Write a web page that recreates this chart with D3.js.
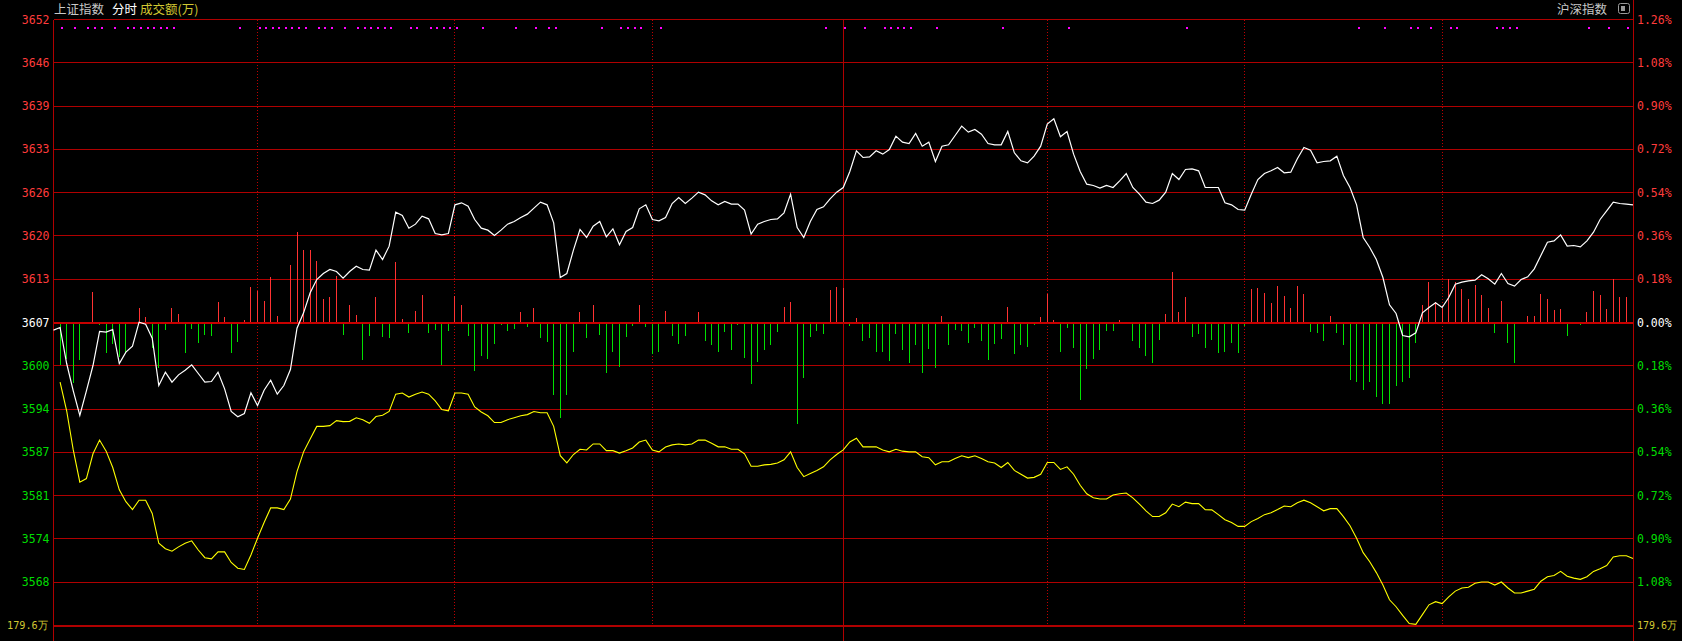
<!DOCTYPE html>
<html>
<head>
<meta charset="utf-8">
<script src="https://cdn.jsdelivr.net/npm/d3@7/dist/d3.min.js"></script>
<style>
html,body{margin:0;padding:0;background:#000;overflow:hidden;}
svg{display:block;}
</style>
</head>
<body>
<svg id="chart" width="1682" height="641"></svg>
<script>
// ---------------- DATA ----------------
const prevClose = 3606.85;
const pctTicks = [1.26,1.08,0.90,0.72,0.54,0.36,0.18,0,-0.18,-0.36,-0.54,-0.72,-0.90,-1.08,-1.26];
const leftLabels = ["3652","3646","3639","3633","3626","3620","3613","3607","3600","3594","3587","3581","3574","3568"];
const rightLabels = ["1.26%","1.08%","0.90%","0.72%","0.54%","0.36%","0.18%","0.00%","0.18%","0.36%","0.54%","0.72%","0.90%","1.08%"];
const amountLabel = "179.6万";
const dottedMinutes = [30,60,90,150,180,210];
const middayMinute = 119;

// 上证指数 minute prices (index -1 .. 239)
const shIndex = [3605.7,
3606.1,3600.7,3596.6,3592.9,3596.6,3600.4,3605.5,3605.4,3605.8,3600.7,
3602.4,3603.3,3606.9,3606.6,3604.5,3597.4,3599.4,3597.9,3599.0,3599.7,
3600.5,3599.2,3597.9,3598.0,3599.4,3596.9,3593.5,3592.7,3593.2,3596.3,
3594.4,3596.7,3598.2,3596.1,3597.4,3599.8,3606.0,3608.3,3611.3,3613.3,
3614.2,3614.8,3614.5,3613.5,3614.5,3615.3,3614.8,3614.7,3617.7,3616.3,
3618.3,3623.4,3622.9,3621.0,3621.6,3622.8,3622.4,3620.2,3620.0,3620.2,
3624.5,3624.8,3624.3,3622.3,3621.0,3620.7,3619.9,3620.7,3621.6,3622.0,
3622.6,3623.1,3624.0,3624.9,3624.5,3621.8,3613.6,3614.2,3617.7,3620.8,
3619.6,3621.3,3622.0,3619.7,3620.9,3618.5,3620.5,3621.1,3623.9,3624.5,
3622.3,3622.1,3622.6,3624.7,3625.6,3624.7,3625.5,3626.4,3626.0,3625.1,
3624.5,3625.0,3624.6,3624.6,3623.7,3620.1,3621.6,3622.0,3622.3,3622.4,
3623.3,3626.1,3621.1,3619.6,3622.0,3623.8,3624.2,3625.4,3626.4,3627.1,
3629.5,3632.6,3631.6,3631.7,3632.6,3632.1,3632.8,3634.8,3633.9,3633.7,
3635.2,3633.3,3633.9,3631.0,3633.3,3633.5,3634.9,3636.3,3635.4,3635.8,
3635.1,3633.7,3633.5,3633.5,3635.5,3632.3,3631.1,3630.8,3631.8,3633.3,
3636.6,3637.4,3634.7,3635.5,3632.1,3629.5,3627.6,3627.4,3627.0,3627.4,
3627.1,3628.1,3629.2,3627.1,3626.1,3624.9,3624.7,3625.2,3626.4,3629.2,
3628.3,3629.8,3629.9,3629.6,3627.1,3627.1,3627.1,3624.8,3624.5,3623.8,
3623.7,3626.1,3628.3,3629.2,3629.6,3630.1,3629.3,3629.4,3631.4,3633.1,
3632.7,3630.8,3631.0,3631.1,3631.8,3628.9,3627.1,3624.5,3619.6,3618.1,
3616.3,3613.6,3609.5,3608.2,3604.9,3604.7,3605.3,3608.3,3609.1,3609.8,
3609.1,3610.6,3612.6,3612.9,3613.1,3613.2,3614.0,3613.4,3612.6,3614.2,
3612.7,3612.3,3613.3,3613.7,3614.9,3616.9,3618.9,3619.1,3620.0,3618.3,
3618.4,3618.2,3619.1,3620.4,3622.3,3623.6,3624.9,3624.7,3624.6,3624.5];

// 沪深指数 comparison line, % change (index 0 .. 239)
const hsPct = [
-0.248,-0.367,-0.530,-0.664,-0.649,-0.546,-0.489,-0.535,-0.603,-0.696,
-0.745,-0.778,-0.739,-0.739,-0.794,-0.918,-0.941,-0.951,-0.933,-0.918,
-0.908,-0.946,-0.978,-0.983,-0.954,-0.954,-0.998,-1.022,-1.027,-0.967,
-0.897,-0.832,-0.771,-0.771,-0.778,-0.734,-0.620,-0.538,-0.484,-0.432,
-0.432,-0.429,-0.408,-0.412,-0.411,-0.396,-0.404,-0.419,-0.391,-0.386,
-0.370,-0.298,-0.293,-0.310,-0.298,-0.289,-0.298,-0.326,-0.362,-0.367,
-0.293,-0.293,-0.298,-0.351,-0.372,-0.388,-0.416,-0.416,-0.404,-0.396,
-0.388,-0.383,-0.370,-0.375,-0.375,-0.432,-0.554,-0.584,-0.549,-0.527,
-0.530,-0.505,-0.505,-0.533,-0.533,-0.543,-0.533,-0.522,-0.497,-0.489,
-0.530,-0.538,-0.518,-0.509,-0.505,-0.509,-0.505,-0.489,-0.489,-0.502,
-0.517,-0.517,-0.527,-0.527,-0.546,-0.598,-0.598,-0.592,-0.590,-0.584,
-0.571,-0.538,-0.603,-0.641,-0.628,-0.615,-0.600,-0.571,-0.549,-0.530,
-0.497,-0.481,-0.517,-0.517,-0.517,-0.530,-0.538,-0.527,-0.535,-0.538,
-0.538,-0.558,-0.562,-0.592,-0.579,-0.579,-0.566,-0.554,-0.562,-0.554,
-0.566,-0.579,-0.584,-0.603,-0.582,-0.615,-0.631,-0.647,-0.644,-0.631,
-0.582,-0.582,-0.611,-0.600,-0.631,-0.677,-0.712,-0.729,-0.734,-0.734,
-0.717,-0.712,-0.709,-0.729,-0.755,-0.783,-0.807,-0.807,-0.791,-0.755,
-0.766,-0.747,-0.753,-0.753,-0.778,-0.779,-0.799,-0.820,-0.832,-0.848,
-0.848,-0.828,-0.815,-0.799,-0.791,-0.778,-0.763,-0.766,-0.750,-0.739,
-0.750,-0.766,-0.783,-0.774,-0.774,-0.807,-0.845,-0.897,-0.957,-0.995,
-1.040,-1.092,-1.153,-1.182,-1.218,-1.252,-1.255,-1.215,-1.174,-1.161,
-1.169,-1.141,-1.117,-1.104,-1.101,-1.084,-1.079,-1.079,-1.092,-1.079,
-1.104,-1.125,-1.125,-1.117,-1.109,-1.076,-1.057,-1.052,-1.035,-1.055,
-1.063,-1.068,-1.057,-1.035,-1.024,-1.011,-0.975,-0.970,-0.970,-0.981];

// buy/sell strength bars (index 0 .. 239), + red / - green
const strength = [
-105,-90,-152,-92,-2,75,-5,-75,-53,-85,
-75,0,35,12,-63,-113,-17,35,20,-75,
-15,-50,-30,-32,50,12,-75,-47,5,87,
77,52,113,15,0,145,227,182,183,155,
58,62,117,-30,42,17,-93,-32,63,-35,
-38,153,7,-23,28,67,-23,-17,-105,-20,
65,42,-33,-120,-82,-90,-53,-3,-20,-15,
23,-8,35,-38,-48,-183,-242,-183,-73,25,
-38,42,-30,-127,-72,-112,-35,-7,43,-10,
-77,-72,28,-33,-53,-32,-2,23,-45,-55,
-72,-22,-67,-5,-87,-155,-97,-67,-55,-22,
38,50,-257,-140,-35,-20,-27,80,89,85,
-7,10,-45,-38,-72,-72,-95,-27,-67,-102,
-55,-127,-65,-113,15,-55,-17,-20,-50,-12,
-45,-92,-53,-40,38,-77,-55,-60,-3,12,
70,5,-73,-12,-63,-195,-117,-90,-68,-20,
-20,5,0,-45,-63,-83,-100,-43,20,125,
25,62,-35,-27,-63,-43,-75,-73,-50,-75,
-7,82,85,72,47,90,65,35,90,70,
-22,-25,-45,15,-25,-55,-145,-150,-170,-150,
-187,-205,-205,-160,-150,-140,-50,43,102,50,
35,109,100,82,58,92,67,35,-25,52,
-50,-100,0,15,15,70,58,30,33,-32,
-2,-4,25,77,67,33,109,63,63,0];

// minutes flagged with magenta markers
const markMinutes = [0,2,4,5,6,8,10,11,12,13,14,15,16,17,27,30,31,32,33,34,35,36,37,39,40,41,43,45,46,
47,48,49,50,53,54,56,57,58,59,60,64,69,72,74,75,82,85,86,87,88,91,
116,119,122,125,126,127,128,129,133,143,153,171,
197,201,205,206,208,211,212,218,219,220,221,232,235,238];

// ---------------- CHART ----------------
const L = 53.5, R = 1633.5, T = 19.5, B = 625.5;
const svg = d3.select("#chart");
svg.append("rect").attr("width",1682).attr("height",641).attr("fill","#000");

const x = d3.scaleLinear().domain([-1, 239]).range([L, 1633]);
const yPct = d3.scaleLinear().domain([-1.26, 1.26]).range([B, T]);
const yIdx = d3.scaleLinear().domain([prevClose*(1-0.0126), prevClose*(1+0.0126)]).range([B, T]);
const center = yPct(0);
const barH = d3.scaleLinear().domain([0, 110.4]).range([0, (B - T) / 14]);

const snap = v => Math.floor(v) + 0.5;
const gridC = "#b00000";

// horizontal grid
const g = svg.append("g").attr("shape-rendering","crispEdges");
g.selectAll("line.h").data(pctTicks).join("line")
  .attr("x1", L).attr("x2", R)
  .attr("y1", d => d === 0 ? center : snap(yPct(d)))
  .attr("y2", d => d === 0 ? center : snap(yPct(d)))
  .attr("stroke", d => d === 0 ? "#c80000" : gridC)
  .attr("stroke-width", d => (d === 0 || d === -1.26) ? 2 : 1);

// vertical dotted lines
g.selectAll("line.v").data(dottedMinutes).join("line")
  .attr("x1", d => snap(x(d))).attr("x2", d => snap(x(d)))
  .attr("y1", T).attr("y2", B)
  .attr("stroke", "#c00000").attr("stroke-dasharray","1,2");
// midday solid line
g.append("line").attr("x1", snap(x(middayMinute))).attr("x2", snap(x(middayMinute)))
  .attr("y1", T).attr("y2", 641).attr("stroke", gridC);
// borders
g.append("line").attr("x1", L).attr("x2", L).attr("y1", T).attr("y2", 641).attr("stroke", gridC);
g.append("line").attr("x1", R).attr("x2", R).attr("y1", 0).attr("y2", 641).attr("stroke", gridC);

// bars
g.selectAll("line.bar").data(strength).join("line")
  .attr("x1", (d,i) => snap(x(i))).attr("x2", (d,i) => snap(x(i)))
  .attr("y1", d => d >= 0 ? center - 1 : center + 1)
  .attr("y2", d => d >= 0 ? center - 1 - barH(d) : center + 1 + barH(-d))
  .attr("stroke", d => d >= 0 ? "#ff3232" : "#00e000")
  .attr("stroke-width", 1)
  .attr("display", d => d === 0 ? "none" : null);

// magenta markers
g.selectAll("rect.mk").data(markMinutes).join("rect")
  .attr("x", d => Math.round(x(d)) + 1).attr("y", 27).attr("width", 2).attr("height", 2)
  .attr("fill", "#ff00ff");

// yellow comparison line
const lineY = d3.line().x((d,i) => x(i)).y(d => yPct(d));
svg.append("path").datum(hsPct).attr("d", lineY)
  .attr("fill","none").attr("stroke","#ffff00").attr("stroke-width",1.1);

// white price line
const lineW = d3.line().x((d,i) => x(i - 1)).y(d => yIdx(d));
svg.append("path").datum(shIndex).attr("d", lineW)
  .attr("fill","none").attr("stroke","#ffffff").attr("stroke-width",1.2);

// axis labels
const mono = "'DejaVu Sans Mono', 'Liberation Mono', monospace";
const colorFor = i => i < 7 ? "#ff3c3c" : (i === 7 ? "#ffffff" : "#00dc00");
svg.selectAll("text.l").data(leftLabels).join("text")
  .attr("x", 49.5).attr("y", (d,i) => yPct(pctTicks[i]))
  .attr("dy","0.36em").attr("text-anchor","end")
  .attr("font-family", mono).attr("font-size", 11.5)
  .attr("fill", (d,i) => colorFor(i)).text(d => d);
svg.selectAll("text.r").data(rightLabels).join("text")
  .attr("x", 1637).attr("y", (d,i) => yPct(pctTicks[i]))
  .attr("dy","0.36em").attr("text-anchor","start")
  .attr("font-family", mono).attr("font-size", 11.5)
  .attr("fill", (d,i) => colorFor(i)).text(d => d);
svg.append("text").attr("x", 7).attr("y", B).attr("dy","0.36em").attr("text-anchor","start")
  .attr("font-family", mono).attr("font-size", 11)
  .attr("textLength", 41).attr("lengthAdjust", "spacingAndGlyphs")
  .attr("fill","#d2c832").text(amountLabel);
svg.append("text").attr("x", 1637).attr("y", B).attr("dy","0.36em").attr("text-anchor","start")
  .attr("font-family", mono).attr("font-size", 11)
  .attr("textLength", 40).attr("lengthAdjust", "spacingAndGlyphs")
  .attr("fill","#d2c832").text(amountLabel);

// header
const cjk = "'Noto Sans CJK SC', sans-serif";
svg.append("text").attr("x", 54).attr("y", 14).attr("font-family", cjk).attr("font-size", 12.5)
  .attr("fill","#c8c8c8").text("上证指数");
svg.append("text").attr("x", 112).attr("y", 14).attr("font-family", cjk).attr("font-size", 12.5)
  .attr("fill","#ffffff").text("分时");
svg.append("text").attr("x", 140).attr("y", 14).attr("font-family", cjk).attr("font-size", 12.5)
  .attr("fill","#d2c832").text("成交额(万)");
svg.append("text").attr("x", 1607).attr("y", 14).attr("text-anchor","end").attr("font-family", cjk).attr("font-size", 12.5)
  .attr("fill","#c8c8c8").text("沪深指数");
// small toggle icon
svg.append("rect").attr("x", 1618.5).attr("y", 3.5).attr("width", 11).attr("height", 10).attr("rx", 2)
  .attr("fill","none").attr("stroke","#9a9a9a");
svg.append("rect").attr("x", 1621).attr("y", 6).attr("width", 4).attr("height", 5).attr("fill","#9a9a9a");
</script>
</body>
</html>
